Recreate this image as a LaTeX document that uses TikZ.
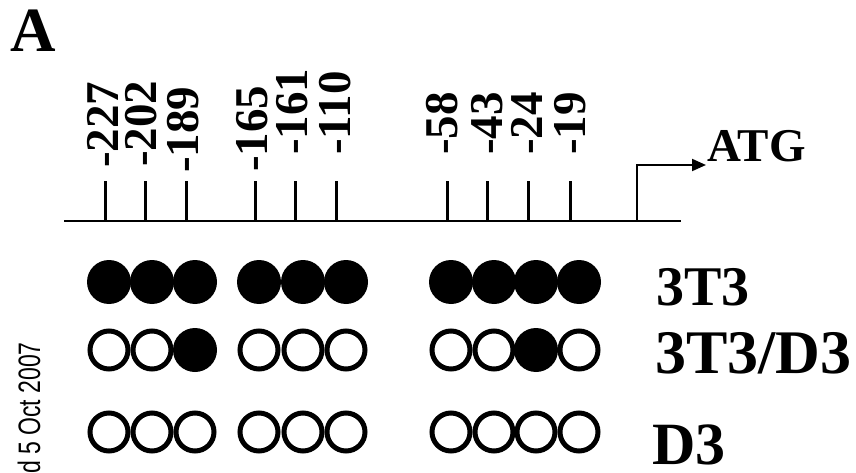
\documentclass[tikz,border=0pt]{standalone}
\usepackage{fontspec}
\setmainfont{Liberation Serif}
\newfontfamily\sidefont{Liberation Sans}
\usetikzlibrary{arrows.meta}
\begin{document}
\begin{tikzpicture}[x=1pt,y=-1pt,
  poslbl/.style={font=\bfseries\fontsize{47}{47}\selectfont, rotate=90, anchor=base west, inner sep=0},
  bigtxt/.style={font=\bfseries, anchor=base west, inner sep=0, text depth=0pt},
  tickline/.style={line width=3pt},
  fullc/.style={circle, fill=black, minimum size=44pt, inner sep=0},
  openc/.style={circle, draw=black, line width=5pt, minimum size=38pt, inner sep=0, fill=white},
]
\useasboundingbox (0,0) rectangle (856,473);

% panel letter
\node[bigtxt, font=\bfseries\fontsize{63}{63}\selectfont] (panel) at (10,52) {A};

% promoter line
\coordinate (lineL) at (64,221);
\coordinate (lineR) at (681,221);
\draw[line width=2pt] (lineL) -- (lineR);

% ticks and position labels
\foreach \tx/\lx/\ly/\t [count=\i] in {105/118/168/-227, 145/156/167/-202, 186/198/173/-189,
  255/267/172/-165, 295/307/155/-161, 336/350/155/-110,
  447/457/155/-58, 487/502/155/-43, 528/542/155/-24, 570/585/155/-19}{
  \coordinate (tb\i) at (\tx,221);
  \coordinate (tt\i) at (\tx,181);
  \draw[tickline] (tb\i) -- (tt\i);
  \node[poslbl] (pl\i) at (\lx,\ly) {\t};
}

% transcription start arrow
\coordinate (tss) at (637,221);
\coordinate (arrend) at (706,165);
\draw[line width=2pt, -{Triangle[length=14pt,width=12pt]}] (tss) |- (arrend);
\node[bigtxt, font=\bfseries\fontsize{47}{47}\selectfont] (atg) at (707,162) {ATG};

% methylation circles
\foreach \cx/\a/\b/\c [count=\j] in {109/1/0/0, 152/1/0/0, 195/1/1/0,
  259/1/0/0, 303/1/0/0, 346/1/0/0,
  451/1/0/0, 494/1/0/0, 536/1/1/0, 579/1/0/0}{
  \ifnum\a=1 \node[fullc] (r1c\j) at (\cx,282) {}; \else \node[openc] (r1c\j) at (\cx,282) {}; \fi
  \ifnum\b=1 \node[fullc] (r2c\j) at (\cx,350) {}; \else \node[openc] (r2c\j) at (\cx,350) {}; \fi
  \ifnum\c=1 \node[fullc] (r3c\j) at (\cx,432) {}; \else \node[openc] (r3c\j) at (\cx,432) {}; \fi
}

% row labels
\node[bigtxt, font=\bfseries\fontsize{56}{56}\selectfont] (l3t3) at (656,305) {3T3};
\node[bigtxt, font=\bfseries\fontsize{62}{62}\selectfont] (l3t3d3) at (655,373) {3T3/D3};
\node[bigtxt, font=\bfseries\fontsize{60}{60}\selectfont] (ld3) at (652,464) {D3};

% side stamp
\begin{scope}
\clip (0,0) rectangle (856,473);
\node[font=\sidefont\fontsize{23}{23}\selectfont, rotate=90, yscale=1.35, anchor=base east, inner sep=0] (stamp) at (40,342) {d 5 Oct 2007};
\end{scope}
\end{tikzpicture}
\end{document}
